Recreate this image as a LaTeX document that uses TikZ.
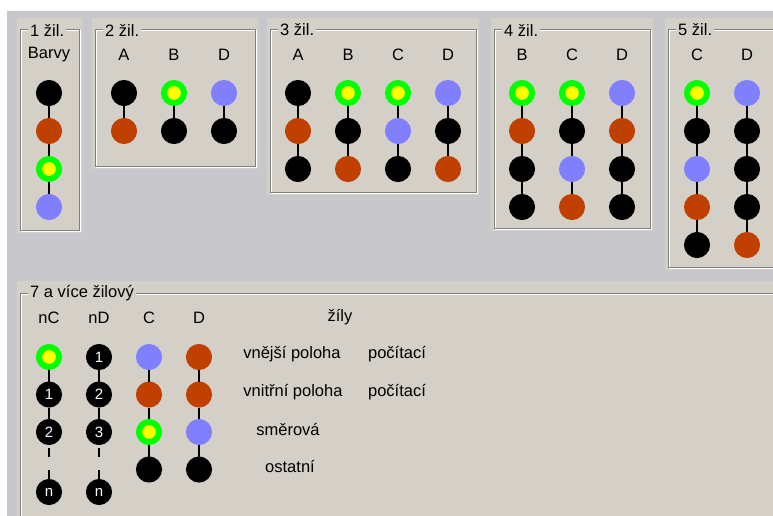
\documentclass[tikz,border=0pt]{standalone}
\usepackage{fontspec}
\setmainfont{Liberation Sans}
\usepackage{tikz}
\definecolor{desk}{HTML}{C8C7CC}
\definecolor{panel}{HTML}{D4D0C8}
\definecolor{etch}{HTML}{808080}
\definecolor{corek}{HTML}{000000}
\definecolor{ringk}{HTML}{000000}
\definecolor{corer}{HTML}{C04000}
\definecolor{ringr}{HTML}{C04000}
\definecolor{coreb}{HTML}{8080FF}
\definecolor{ringb}{HTML}{8080FF}
\definecolor{coreg}{HTML}{FFFF00}
\definecolor{ringg}{HTML}{00FF00}
\tikzset{
  wire/.style={circle, minimum size=20pt, inner sep=0pt, line width=6pt},
  link/.style={line width=2pt},
  lbl/.style={font=\fontsize{16.5}{19}\selectfont, inner sep=0pt},
  num/.style={text=white, font=\fontsize{15}{17}\selectfont}
}

\begin{document}
\begin{tikzpicture}[x=1pt, y=-1pt]
  \useasboundingbox (0,0) rectangle (773,516);
  \clip (0,0) rectangle (773,516);
  \fill[white] (0,0) rectangle (773,516);
  \fill[desk] (7,11) rectangle (773,516);
  % group boxes
  \foreach \l/\t/\rr/\b/\ttl/\id in {17/18/82/233/1 žil./g1, 92/18/258/169/2 žil./g2,
                                267/18/479/195/3 žil./g3, 491/18/653/231/4 žil./g4,
                                665/18/790/270/5 žil./g5, 17/281/790/530/7 a více žilový/g7}{
    \fill[panel] (\l,\t) rectangle (\rr,\b);
    \draw[white, line width=1pt] (\l+4,\t+13) rectangle (\rr-2,\b-2);
    \draw[etch, line width=1pt] (\l+3,\t+12) rectangle (\rr-3,\b-3);
    \node[lbl, fill=panel, inner xsep=2pt, anchor=west] (\id) at (\l+11,\t+12) {\ttl};}
  % 1 to 5 cores: one column per pair
  \foreach \px/\col/\lab/\wires in {49/ba/Barvy/{k,r,g,b},
      124/da/A/{k,r}, 174/db/B/{g,k}, 224/dd/D/{b,k},
      298/ta/A/{k,r,k}, 348/tb/B/{g,k,r}, 398/tc/C/{g,b,k}, 448/td/D/{b,k,r},
      522/qb/B/{g,r,k,k}, 572/qc/C/{g,k,b,r}, 622/qd/D/{b,r,k,k},
      697/pc/C/{g,k,b,r,k}, 747/pd/D/{b,k,k,k,r}}{
    \node[lbl] (\col-h) at (\px,55) {\lab};
    \foreach \w [count=\n] in \wires {
      \node[wire, fill=core\w, draw=ring\w] (\col-\n) at (\px,55+38*\n) {};
      \ifnum\n>1
        \pgfmathtruncatemacro{\q}{\n-1}
        \draw[link] (\col-\q) -- (\col-\n);
      \fi}}
  % 7 and more cores
  \foreach \px/\col/\lab in {49/nc/nC, 99/nd/nD, 149/sc/C, 199/sd/D}
    \node[lbl] (\col-h) at (\px,318) {\lab};
  \foreach \px/\col/\wires in {49/nc/{g/,k/1,k/2}, 99/nd/{k/1,k/2,k/3}}{
    \foreach \w/\t [count=\n] in \wires {
      \node[wire, num, fill=core\w, draw=ring\w] (\col-\n) at (\px,357+37.5*\n-37.5) {\t};
      \ifnum\n>1
        \pgfmathtruncatemacro{\q}{\n-1}
        \draw[link] (\col-\q) -- (\col-\n);
      \fi}
    \node[wire, num, fill=corek, draw=ringk] (\col-n) at (\px,492) {n};
    \draw[link, dash pattern=on 9pt off 13pt, shorten <=3pt] (\col-3) -- (\col-n);}
  \foreach \px/\col/\wires in {149/sc/{b,r,g,k}, 199/sd/{r,r,b,k}}{
    \foreach \w [count=\n] in \wires {
      \node[wire, fill=core\w, draw=ring\w] (\col-\n) at (\px,357+37.5*\n-37.5) {};
      \ifnum\n>1
        \pgfmathtruncatemacro{\q}{\n-1}
        \draw[link] (\col-\q) -- (\col-\n);
      \fi}}
  % legend texts
  \node[lbl] (zily) at (340,317) {žíly};
  \node[lbl] (vnejsi) at (292,354) {vnější poloha};
  \node[lbl] (poca) at (397,354) {počítací};
  \node[lbl] (vnitrni) at (293,392) {vnitřní poloha};
  \node[lbl] (pocb) at (397,392) {počítací};
  \node[lbl] (smer) at (288,430) {směrová};
  \node[lbl] (ostatni) at (290,467) {ostatní};
\end{tikzpicture}
\end{document}
